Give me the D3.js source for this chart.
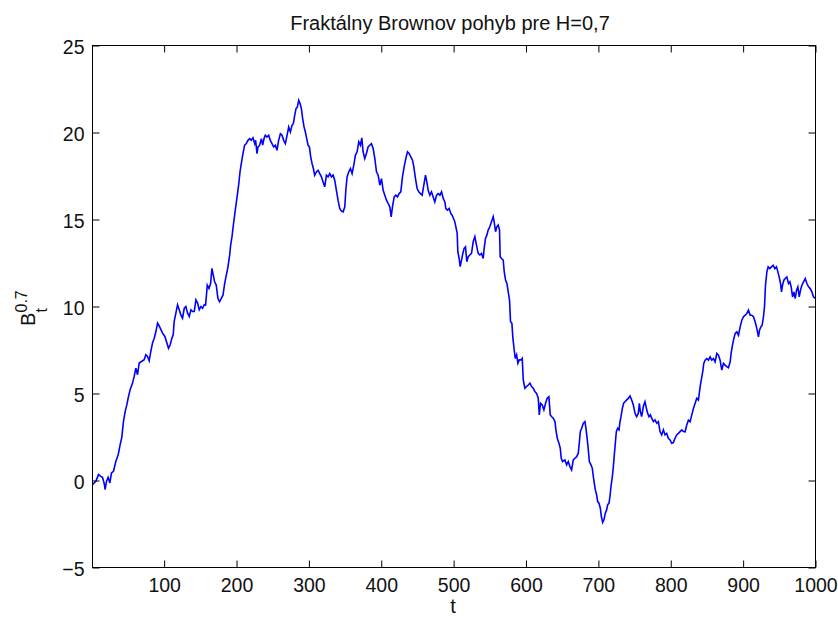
<!DOCTYPE html>
<html>
<head>
<meta charset="utf-8">
<script src="https://cdn.jsdelivr.net/npm/d3@7"></script>
<style>
  html, body { margin: 0; padding: 0; background: #fff; }
  svg { display: block; font-family: "Liberation Sans", Arial, Helvetica, sans-serif; }
</style>
</head>
<body>
<svg id="chart" width="838" height="619"></svg>
<script>
// Sample path of fractional Brownian motion, H = 0.7 (time step t, value B_t)
const t = [
  1, 5.6, 9.3, 12.5, 14.8, 17, 18.5, 20.3, 22.6, 25, 27.2, 30, 33.2, 36.5, 39.2, 41.5, 43.8, 46.2, 48.5, 50.3,
  53, 56.3, 58.6, 60.9, 63.2, 65.5, 68.7, 72.4, 74.7, 77, 79.3, 81.6, 83.9, 86.3, 88.6, 90.9, 92.3, 94.6, 97.8, 101,
  103.8, 106, 108.4, 110.7, 112.5, 113.9, 116.2, 118.5, 120.8, 123.1, 125.4, 127.8, 130, 132.4, 134.7, 137, 139.3, 141.6, 143.9, 146.2,
  148.5, 150.8, 153.1, 155.4,
  157.3, 159.6, 161.9, 164.2, 166, 167.9, 169.7, 172, 174.3, 176.6, 179, 181.3, 183.6, 185.9, 188.2, 190.5, 191.9, 193.7, 195.6, 197.4,
  199.2, 201.1, 202.9, 204.8, 206.6, 208.9, 211.2, 213.5, 215.8, 218.1, 220.4, 222.8, 225.1, 226.4, 228.3, 229.7, 232, 234.3, 236.1, 238,
  239.8, 242.1, 244.4, 246.7, 249, 251.3, 253.6, 255.9, 258.2, 260.6, 262.9, 265.2, 267.5, 269.8, 272.1, 274.4, 276.7, 278.5, 280.4, 282.2,
  284.1, 285.9, 287.8, 289.6, 291.4, 293.3, 295.1, 297, 298.8, 300.7, 302.5, 304.4, 306.2, 308, 310.4, 312.7, 315, 317.3, 319.6,
  321.9, 324.2, 326.5, 328.8, 331.1, 333.4, 335.7, 338, 340.3, 342.6, 345, 347.3, 349.6, 351, 352.8, 355.1, 357.4, 359.7, 362, 364.3,
  366.6, 368.9, 371.2, 373.1, 374.9, 377.2, 379.5, 381.8, 384.1, 386.4, 388.8, 391.1, 393.4, 395.7, 398, 400.3, 402.6, 404.9, 407.2, 409.5,
  411.8, 413.7, 415.5, 417.8, 420.1, 422.4, 424.7, 427, 429.3, 431.6, 433.9, 436.2, 438.5, 440.8, 443.2, 445, 447.3, 449.6, 451.9, 454.2,
  456.5, 458.8, 461.1, 463, 464.8, 467.1, 469.4, 471.7, 474, 476.4, 478.7, 481, 483.3, 485.6, 487.9,
  489.2, 491.5, 493.8, 496.1, 497.9, 499.8, 501.6, 503.5, 504.9, 505.8, 507.6, 509, 510.9, 512.7, 514.5, 516.4, 518.2, 520.1, 522.4, 524.7,
  527, 529.3, 531.6, 533.9, 536.2, 538.5, 540.8, 542.2, 544, 545.9, 547.7, 550, 552.3, 554.7, 556, 557.9, 559.7, 561.6, 563.4, 564.3,
  566.2, 568.5, 569.9, 571.7, 573.6, 575.4, 577.2, 578.6, 580.5, 581.9, 583.7, 585.1, 587, 588.8, 590.6, 592.9, 594.8, 596.2, 598.5, 600.8,
  603.1, 605.4, 607.7, 610, 612.3, 614.6, 616.9, 618.3, 620.1, 622.4, 624.7, 627, 629.3, 631.6, 633.5, 635.3, 637.6, 640, 641.3, 643.2,
  645.5, 647.3, 648.7, 650.5,
  653.8, 656.1, 658.4, 660.7, 663, 665.3, 667.6, 670, 672.2, 673.6, 675, 676.9, 679.2, 681.5, 682.8, 684.7, 686.1, 687.5, 689.8, 691.6,
  693, 694.4, 695.8, 697.6, 699, 700.8, 702.7, 704.1, 705.9, 707.7, 709.6, 711.4, 712.8, 714.7, 716, 717.4, 719.3, 720.7, 722, 723.4,
  724.8, 726.6, 728.5, 729.9, 731.3, 733.1, 734.9, 736.8, 739.1, 741.4, 743.7, 746, 748.3, 750.6, 752.9, 755.2, 756.6, 758, 759.8, 762.1,
  764.4, 766.3, 768.1, 769.9, 771.8, 773.7, 776, 778.3, 780.6, 782.9, 785.2, 787.5, 789.8, 792.1, 794.4, 796.7, 799, 801.3, 803.6, 805.9,
  808.2, 810.6, 812.9, 815.2, 817.5,
  819.8, 822.1, 824.4, 826.7, 829, 831.3, 833.6, 835.9, 838.2, 840.6, 842.9, 844.2, 845.6, 847.5, 849.8, 852.1, 854.4, 856.7, 859, 861.3,
  863.6, 865.9, 868.2, 870.5, 872.8, 875.1, 877.4, 879.7, 882.1, 883.4, 885.3, 886.7, 889, 891.3, 893.6, 895.9, 898.2, 900.5, 902.8, 905.1,
  907.4, 909.7, 912, 914.3, 916.6, 918.9, 921.2, 922.6, 924.5, 926.3, 928.1, 929.5, 930.9, 932.8, 934.6, 936.9, 939.2, 941.5, 943.8, 946.1,
  948, 949.8, 951.7, 953, 954.4, 956.3, 958.1, 960.4, 962.7, 964.6, 966.4, 968.3, 970.1, 972, 973.8, 975.6, 977.5, 979.3, 981.2, 983.5,
  985.8, 988.1, 990.4, 992.7, 995, 997.3, 1000
];
const B = [
  -0.24, -0.05, 0.34, 0.24, 0.18, -0.14, -0.52, -0.05, 0.18, -0.14, 0.43, 0.53, 1.1, 1.48, 2.06, 2.48, 3.4, 3.97, 4.36, 4.74,
  5.22, 5.6, 5.98, 6.46, 6.08, 6.75, 6.84, 6.94, 7.23, 7.13, 6.88, 7.42, 7.9, 8.18, 8.56, 9.04, 8.95, 8.76, 8.47, 8.28,
  7.9, 7.6, 7.8, 8.18, 8.37, 9.14, 9.62, 10.1, 9.81, 9.52, 9.33, 9.9, 10, 9.62, 9.43, 9.81, 9.71, 9.71, 10.38, 10.2,
  9.81, 10, 9.9, 10.1,
  10.08, 11.23, 11.04, 11.32, 12.19, 11.8, 11.42, 11.23, 10.46, 10.27, 10.46, 10.65, 11.32, 11.8, 12.28, 12.95, 13.53, 14, 14.67, 15.25,
  15.82, 16.4, 16.97, 17.73, 18.21, 18.79, 19.27, 19.36, 19.55, 19.65, 19.55, 19.69, 19.36, 19.55, 18.79, 19.17, 19.27, 19.65, 19.27, 19.65,
  19.84, 19.74, 19.84, 19.55, 19.36, 19.17, 19.27, 18.98, 19.55, 19.93, 19.84, 19.55, 19.36, 19.84, 20.32, 20.03, 20.41, 20.51, 20.99, 21.37,
  21.47, 21.85, 21.66, 21.37, 20.8, 20.32, 20.03, 19.65, 19.27, 19.17, 18.6, 18.21, 17.93, 17.54, 17.73, 17.83, 17.64, 17.45, 17.16,
  16.88, 17.55, 17.45, 17.64, 17.45, 17.55, 17.26, 16.68, 16.11, 15.63, 15.48, 15.44, 15.73, 16.68, 17.45, 17.74, 17.93, 17.64, 18.12, 18.7,
  18.89, 19.46, 19.27, 19.69, 18.89, 18.5, 18.79, 19.17, 19.27, 19.36, 19.08, 18.5, 17.74, 17.55, 16.97, 17.35, 16.68, 16.4, 16.11, 15.92,
  15.73, 15.15, 15.73, 16.3, 16.4, 16.3, 16.49, 16.59, 17.45, 18.02, 18.5, 18.89, 18.79, 18.6, 18.41, 18.02, 17.35, 16.78, 16.59, 16.49,
  16.4, 16.97, 17.55, 17.16, 16.68, 16.4, 16.59, 16.3, 16.01, 16.4, 16.49, 16.4, 16.59, 16.21, 16.01,
  15.63, 15.54, 15.63, 15.35, 15.25, 15.06, 14.87, 14.49, 14.2, 13.15, 12.76, 12.29, 12.67, 13.05, 13.34, 13.43, 12.57, 12.86, 12.96, 13.05,
  13.72, 14.01, 13.53, 13.05, 12.96, 13.05, 12.76, 13.34, 13.91, 14.1, 14.39, 14.58, 14.87, 15.16, 14.87, 14.3, 14.58, 14.68, 14.39, 12.86,
  12.76, 12.67, 12, 11.52, 11.33, 10.85, 10.37, 9.13, 9.03, 8.17, 7.5, 7.02, 7.22, 6.74, 6.93, 6.93, 7.02, 5.78, 5.3, 5.4,
  5.49, 5.59, 5.4, 5.3, 5.11, 5.01, 4.73, 3.77, 4.44, 4.34, 4.06, 4.44, 4.73, 4.82, 3.77, 3.68, 3.58, 3.39, 2.91, 2.43,
  2.14, 1.86, 1.28, 1.09,
  1.18, 0.9, 1.09, 0.8, 0.61, 1.18, 1.28, 1.37, 1.57, 2.14, 2.81, 3, 3.29, 3.38, 3, 2.33, 1.76, 1.09, 0.9, 0.7,
  0.23, -0.16, -0.54, -0.83, -1.21, -1.3, -1.59, -2.07, -2.41, -2.26, -1.88, -1.69, -1.4, -1.3, -0.92, -0.35, 0.23, 0.8, 1.47, 2.14,
  2.81, 3, 2.91, 3.38, 3.67, 4.15, 4.44, 4.53, 4.63, 4.72, 4.86, 4.63, 4.34, 3.86, 3.67, 3.86, 4.44, 3.96, 3.67, 4.25,
  4.53, 4.15, 3.86, 3.67, 3.77, 3.58, 3.38, 3.48, 3.29, 3.38, 2.81, 2.62, 2.91, 2.62, 2.71, 2.43, 2.33, 2.14, 2.18, 2.43,
  2.62, 2.71, 2.81, 2.91, 2.81,
  2.8, 3.19, 3.47, 3.38, 3.76, 4.14, 4.43, 4.72, 4.62, 5.39, 5.96, 6.25, 6.73, 6.92, 7.01, 6.92, 7.11, 6.92, 7.01, 6.82,
  7.3, 7.2, 6.92, 6.34, 6.73, 6.63, 6.54, 6.48, 6.82, 7.3, 7.78, 8.07, 8.45, 8.54, 8.35, 8.83, 9.21, 9.41, 9.5, 9.6,
  9.79, 9.5, 9.5, 9.41, 9.12, 8.74, 8.26, 8.64, 8.83, 8.93, 9.41, 9.98, 11.22, 11.99, 12.28, 12.18, 12.28, 12.37, 12.18, 12.28,
  11.99, 11.7, 11.32, 10.84, 11.22, 11.51, 11.61, 11.7, 11.32, 11.42, 11.13, 10.55, 10.84, 10.46, 10.94, 11.13, 10.55, 10.94, 11.22, 11.42,
  11.61, 11.32, 11.13, 11.03, 10.84, 10.55, 10.46
];

const xTicks = [100, 200, 300, 400, 500, 600, 700, 800, 900, 1000];
const yTicks = [-5, 0, 5, 10, 15, 20, 25];
const xDomain = [1, 1000];
const yDomain = [-5, 25];

const titleText = "Fraktálny Brownov pohyb pre H=0,7";
const xLabelText = "t";

const svg = d3.select("#chart");
const W = 838, H = 619;
const box = { left: 92.5, right: 815.5, top: 45.5, bottom: 567.5 };
const tickLen = 7;
const tickFont = 19.5;

svg.append("rect").attr("width", W).attr("height", H).attr("fill", "#fff");

const x = d3.scaleLinear().domain(xDomain).range([box.left, box.right]);
const y = d3.scaleLinear().domain(yDomain).range([box.bottom, box.top]);

// Data line, clipped to the axes box
svg.append("clipPath").attr("id", "plotClip")
  .append("rect")
  .attr("x", box.left).attr("y", box.top)
  .attr("width", box.right - box.left).attr("height", box.bottom - box.top);

const pts = d3.range(Math.min(t.length, B.length)).map(i => [t[i], B[i]]);
const line = d3.line().x(d => x(d[0])).y(d => y(d[1]));

svg.append("path")
  .datum(pts)
  .attr("clip-path", "url(#plotClip)")
  .attr("fill", "none")
  .attr("stroke", "#0000ff")
  .attr("stroke-width", 1.6)
  .attr("stroke-linejoin", "miter")
  .attr("d", line);

// Axes: ticks point inward on all four sides of the box
const axisStyle = g => {
  g.select(".domain").remove();
  g.selectAll(".tick line").attr("stroke", "#000").attr("stroke-width", 1);
  g.selectAll(".tick text")
    .attr("fill", "#111")
    .style("font-size", tickFont + "px")
    .style("font-family", '"Liberation Sans", Arial, sans-serif');
};

svg.append("g")
  .attr("transform", `translate(0,${box.bottom})`)
  .call(d3.axisBottom(x).tickValues(xTicks).tickFormat(d3.format("d"))
    .tickSizeInner(-tickLen).tickSizeOuter(0).tickPadding(11))
  .call(axisStyle);

svg.append("g")
  .attr("transform", `translate(0,${box.top})`)
  .call(d3.axisTop(x).tickValues(xTicks).tickFormat("")
    .tickSizeInner(-tickLen).tickSizeOuter(0))
  .call(axisStyle);

svg.append("g")
  .attr("transform", `translate(${box.left},0)`)
  .call(d3.axisLeft(y).tickValues(yTicks).tickFormat(d3.format("d"))
    .tickSizeInner(-tickLen).tickSizeOuter(0).tickPadding(8))
  .call(axisStyle)
  .selectAll(".tick text").attr("dy", "0.42em");

svg.append("g")
  .attr("transform", `translate(${box.right},0)`)
  .call(d3.axisRight(y).tickValues(yTicks).tickFormat("")
    .tickSizeInner(-tickLen).tickSizeOuter(0))
  .call(axisStyle);

// Axes box
svg.append("rect")
  .attr("x", box.left).attr("y", box.top)
  .attr("width", box.right - box.left).attr("height", box.bottom - box.top)
  .attr("fill", "none").attr("stroke", "#000").attr("stroke-width", 1);

// Title
svg.append("text")
  .attr("x", 450).attr("y", 30)
  .attr("text-anchor", "middle")
  .attr("fill", "#111")
  .style("font-size", "20px")
  .text(titleText);

// x label
svg.append("text")
  .attr("x", 453).attr("y", 613)
  .attr("text-anchor", "middle")
  .attr("fill", "#111")
  .style("font-size", "20px")
  .text(xLabelText);

// y label: B with subscript t and superscript 0.7, rotated
const yl = svg.append("g").attr("transform", "translate(35,325) rotate(-90)");
yl.append("text").attr("x", -1).attr("y", 0)
  .attr("fill", "#111").style("font-size", "20px").text("B");
yl.append("text").attr("x", 12.5).attr("y", 11.5)
  .attr("fill", "#111").style("font-size", "16px").text("t");
yl.append("text").attr("x", 12.5).attr("y", -8)
  .attr("fill", "#111").style("font-size", "16px").text("0.7");
</script>
</body>
</html>
